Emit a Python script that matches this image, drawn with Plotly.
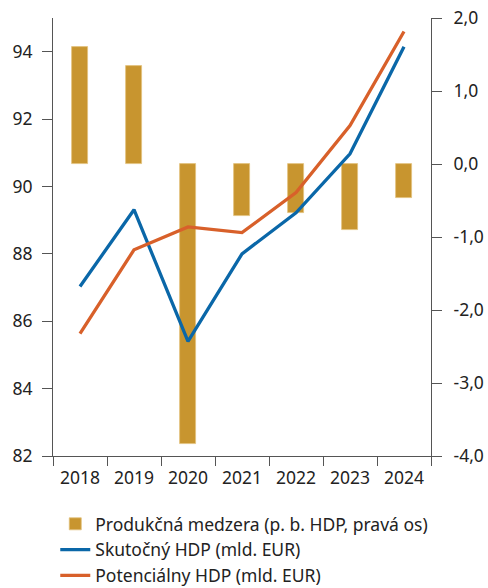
import plotly.graph_objects as go

years = ["2018", "2019", "2020", "2021", "2022", "2023", "2024"]
output_gap = [1.60, 1.34, -3.84, -0.71, -0.67, -0.91, -0.47]
actual_gdp = [87.03, 89.31, 85.40, 88.00, 89.22, 90.97, 94.15]
potential_gdp = [85.63, 88.12, 88.80, 88.63, 89.82, 91.81, 94.60]

left_ticks = [82, 84, 86, 88, 90, 92, 94]
right_ticks = [-4, -3, -2, -1, 0, 1, 2]
right_tick_text = ["-4,0", "-3,0", "-2,0", "-1,0", "0,0", "1,0", "2,0"]

FONT = "Noto Sans"
TXT = "#222222"
AX = "#555555"

fig = go.Figure()
# bars on the base (right-side) axis so that lines on the overlaying axis draw above them
fig.add_trace(go.Bar(
    x=years, y=output_gap, yaxis="y", width=0.3,
    name="Produkčná medzera (p. b. HDP, pravá os)",
    marker=dict(color="#C8952F", line=dict(color="#E2C27E", width=0.8)),
))
fig.add_trace(go.Scatter(
    x=years, y=actual_gdp, mode="lines", yaxis="y2",
    name="Skutočný HDP (mld. EUR)",
    line=dict(color="#0A67A8", width=3.3),
))
fig.add_trace(go.Scatter(
    x=years, y=potential_gdp, mode="lines", yaxis="y2",
    name="Potenciálny HDP (mld. EUR)",
    line=dict(color="#D8602A", width=3.3),
))

fig.update_layout(
    width=488, height=588,
    margin=dict(l=53, r=57, t=18, b=132, autoexpand=False),
    paper_bgcolor="white", plot_bgcolor="white",
    font=dict(family=FONT, size=17.5, color=TXT),
    showlegend=True,
    legend=dict(
        orientation="v", x=0.006, xanchor="left", y=-0.114, yanchor="top",
        font=dict(family=FONT, size=17.5, color=TXT),
        bgcolor="rgba(0,0,0,0)", tracegroupgap=0, itemwidth=30,
        traceorder="normal",
    ),
    xaxis=dict(
        type="category", tickson="boundaries", ticks="outside", ticklen=9,
        tickcolor=AX, showline=True, linecolor=AX, linewidth=1,
        showgrid=False, tickfont=dict(size=17.5, color=TXT), zeroline=False,
        automargin=False, ticklabelstandoff=6,
    ),
    yaxis=dict(
        range=[-4, 2], side="right",
        tickvals=right_ticks, ticktext=right_tick_text,
        ticks="outside", ticklen=10, tickcolor=AX,
        showline=True, linecolor=AX, linewidth=1,
        showgrid=False, zeroline=False, tickfont=dict(size=17.5, color=TXT),
        automargin=False, ticklabelstandoff=8,
    ),
    yaxis2=dict(
        range=[82, 95], overlaying="y", side="left",
        tickvals=left_ticks, ticks="outside", ticklen=10,
        tickcolor=AX, showline=True, linecolor=AX, linewidth=1,
        showgrid=False, zeroline=False, tickfont=dict(size=17.5, color=TXT),
        automargin=False, ticklabelstandoff=6,
    ),
    bargap=0,
)

fig.write_html(
    "out.html",
    config={"displayModeBar": False},
    post_script="document.body.style.margin='0';document.body.style.overflow='hidden';",
)
